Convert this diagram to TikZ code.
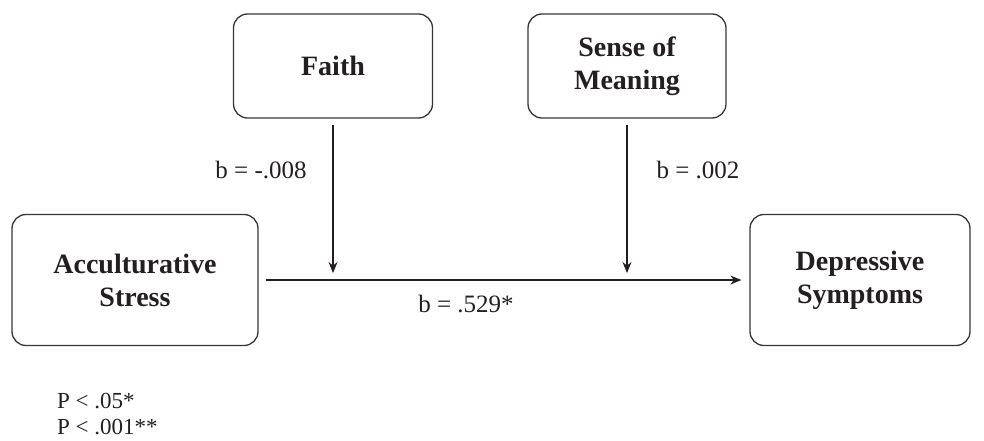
\documentclass[tikz,border=0pt]{standalone}
\usepackage{fontspec}
\setmainfont{Liberation Serif}
\usetikzlibrary{arrows.meta}
\definecolor{ink}{HTML}{231F20}
\begin{document}
\begin{tikzpicture}[x=1pt,y=-1pt,
  box/.style={draw=ink!90, line width=1.3pt, rounded corners=14pt, align=center,
    text=ink, font=\fontsize{28}{33}\selectfont\bfseries, inner sep=0pt},
  lbl/.style={text=ink, font=\fontsize{25}{30}\selectfont, inner sep=0pt},
  note/.style={text=ink, font=\fontsize{23}{26}\selectfont, inner sep=0pt, anchor=west},
  arr/.style={draw=ink, line width=1.3pt, -{Stealth[length=11pt,width=9pt]}}]
\useasboundingbox (0,0) rectangle (984,441);
\node[box, minimum width=199pt, minimum height=104pt] (faith) at (333,66) {Faith};
\node[box, minimum width=198pt, minimum height=104pt] (som) at (627,66) {Sense of\\Meaning};
\node[box, minimum width=246pt, minimum height=131pt] (as) at (135,280) {Acculturative\\Stress};
\node[box, minimum width=220pt, minimum height=131pt] (ds) at (860,280) {Depressive\\Symptoms};
\coordinate (m1) at (333,273);
\coordinate (m2) at (627,273);
\draw[arr, shorten <=7pt, shorten >=8pt] (as) -- (ds);
\draw[arr, shorten <=6pt] (faith) -- (m1);
\draw[arr, shorten <=6pt] (som) -- (m2);
\node[lbl] (l1) at (261,170) {b = -.008};
\node[lbl] (l2) at (698,170) {b = .002};
\node[lbl] (l3) at (466,304) {b = .529*};
\node[note] (p1) at (57,401) {P < .05*};
\node[note] (p2) at (57,427) {P < .001**};
\end{tikzpicture}
\end{document}
